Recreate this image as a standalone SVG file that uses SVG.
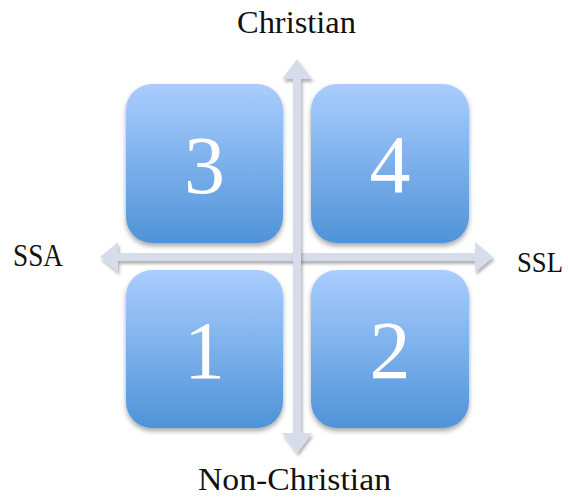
<svg xmlns="http://www.w3.org/2000/svg" width="568" height="502" viewBox="0 0 568 502">
<defs>
<linearGradient id="boxGrad" x1="0" y1="0" x2="0" y2="1">
<stop offset="0" stop-color="#aacdfe"/>
<stop offset="1" stop-color="#4f93d8"/>
</linearGradient>
<filter id="boxShadow" x="-10%" y="-10%" width="125%" height="130%">
<feDropShadow dx="0" dy="3" stdDeviation="2.5" flood-color="#000" flood-opacity="0.35"/>
</filter>
<filter id="arrowShadow" x="-10%" y="-10%" width="125%" height="130%">
<feDropShadow dx="1.5" dy="3" stdDeviation="1.5" flood-color="#000" flood-opacity="0.3"/>
</filter>
</defs>
<style>
.box{fill:url(#boxGrad);filter:url(#boxShadow);}
.num{font-family:"Liberation Serif","DejaVu Serif",serif;font-size:82px;fill:#ffffff;text-anchor:middle;}
.lbl{font-family:"Liberation Serif","DejaVu Serif",serif;font-size:31px;fill:#111111;text-anchor:middle;}
.axis{fill:#d6dcea;filter:url(#arrowShadow);}
</style>
<rect width="568" height="502" fill="#ffffff"/>
<g id="connectors">
<path class="axis" d="M100,257 L118,242 L118,253 L475,253 L475,242 L493,257 L475,272 L475,261 L118,261 L118,272 Z"/>
<path class="axis" d="M297,59 L312,79 L301,79 L301,433 L312,433 L297,453 L282,433 L293,433 L293,79 L282,79 Z"/>
</g>
<g id="node3">
<rect class="box" x="126" y="84" width="157" height="159" rx="26"/>
<text class="num" x="204.5" y="193">3</text>
</g>
<g id="node4">
<rect class="box" x="311" y="84" width="158" height="159" rx="26"/>
<text class="num" x="390" y="192">4</text>
</g>
<g id="node1">
<rect class="box" x="126" y="270" width="157" height="158" rx="26"/>
<text class="num" x="204.5" y="378">1</text>
</g>
<g id="node2">
<rect class="box" x="311" y="270" width="158" height="158" rx="26"/>
<text class="num" x="390" y="378">2</text>
</g>
<g id="labels">
<text class="lbl" x="296.5" y="33" textLength="119" lengthAdjust="spacingAndGlyphs">Christian</text>
<text class="lbl" x="38" y="266" textLength="50" lengthAdjust="spacingAndGlyphs">SSA</text>
<text class="lbl" x="540" y="272" style="font-size:29px" textLength="46" lengthAdjust="spacingAndGlyphs">SSL</text>
<text class="lbl" x="294.5" y="490" textLength="193" lengthAdjust="spacingAndGlyphs">Non-Christian</text>
</g>
</svg>
